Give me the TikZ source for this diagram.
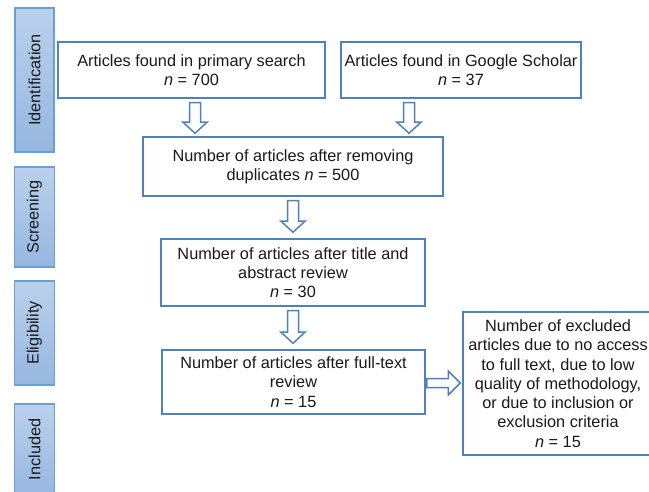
\documentclass[tikz,border=0pt]{standalone}
\usepackage{fontspec}
\setmainfont{Liberation Sans}
\usetikzlibrary{calc}
\definecolor{boxblue}{HTML}{4F81BD}
\definecolor{barline}{HTML}{6A9ED6}
\definecolor{bartop}{HTML}{BAD1EC}
\definecolor{barbot}{HTML}{96B7E0}
\definecolor{txt}{HTML}{1A1A1A}
\newcommand\vblock[2]{\draw[blockarrow] let \p1=(#1), \p2=(#2) in
  (\x1-5.5pt,\y1) -- (\x1+5.5pt,\y1) -- (\x1+5.5pt,\y2+11pt) -- (\x1+12pt,\y2+11pt)
  -- (\x1,\y2) -- (\x1-12pt,\y2+11pt) -- (\x1-5.5pt,\y2+11pt) -- cycle;}
\newcommand\hblock[2]{\draw[blockarrow] let \p1=(#1), \p2=(#2) in
  (\x1,\y1+4.5pt) -- (\x2-12pt,\y1+4.5pt) -- (\x2-12pt,\y1+12pt) -- (\x2,\y1)
  -- (\x2-12pt,\y1-12pt) -- (\x2-12pt,\y1-4.5pt) -- (\x1,\y1-4.5pt) -- cycle;}
\begin{document}
\begin{tikzpicture}[x=1pt,y=-1pt,
  box/.style={draw=boxblue, line width=1.5pt, fill=white, align=center, inner sep=0pt,
    font=\fontsize{16.3}{19.3}\selectfont, text=txt},
  bar/.style={draw=barline, line width=1.5pt, top color=bartop, bottom color=barbot, inner sep=0pt},
  barlabel/.style={rotate=90, font=\fontsize{16.3}{19.3}\selectfont, text=txt},
  blockarrow/.style={draw=boxblue, line width=1.5pt, fill=white, line join=miter}]
\useasboundingbox (0,0) rectangle (649,492);
\clip (0,0) rectangle (649,492);
\fill[white] (0,0) rectangle (649,492);

% side bars
\node[bar, minimum width=39, minimum height=144] (idb) at (34.5,80) {};
\node[barlabel] at (idb) {Identification};
\node[bar, minimum width=40, minimum height=100] (scb) at (34.5,217) {};
\node[barlabel] at (scb) {Screening};
\node[bar, minimum width=40, minimum height=104] (elb) at (34.5,333) {};
\node[barlabel] at (elb) {Eligibility};
\node[bar, minimum width=40, minimum height=91] (inb) at (34.5,449.5) {};
\node[barlabel] at (inb) {Included};

% boxes
\node[box, minimum width=267, minimum height=56] (b1) at (191.5,70)
  {Articles found in primary search\\\textit{n} = 700};
\node[box, minimum width=240, minimum height=56] (b2) at (461,70)
  {Articles found in Google Scholar\\\textit{n} = 37};
\node[box, minimum width=300, minimum height=59] (b3) at (293,166.5)
  {Number of articles after removing\\duplicates \textit{n} = 500};
\node[box, minimum width=264, minimum height=67] (b4) at (293,272.5)
  {Number of articles after title and\\abstract review\\\textit{n} = 30};
\node[box, minimum width=263, minimum height=64] (b5) at (293.5,382)
  {Number of articles after full-text\\review\\\textit{n} = 15};
\node[box, minimum width=190, minimum height=143] (b6) at (558,383.5)
  {Number of excluded\\articles due to no access\\to full text, due to low\\quality of methodology,\\or due to inclusion or\\exclusion criteria\\\textit{n} = 15};

% arrows
\coordinate (a1s) at ($(b1.south)+(3.5,4)$);
\coordinate (a1e) at ($(a1s |- b3.north)+(0,-3)$);
\vblock{a1s}{a1e}
\coordinate (a2s) at ($(b2.south)+(-52,4)$);
\coordinate (a2e) at ($(a2s |- b3.north)+(0,-3)$);
\vblock{a2s}{a2e}
\coordinate (a3s) at ($(b3.south)+(0,4)$);
\coordinate (a3e) at ($(b4.north)+(0,-6)$);
\vblock{a3s}{a3e}
\coordinate (a4s) at ($(b4.south)+(0,4)$);
\coordinate (a4e) at ($(b5.north)+(0,-6)$);
\vblock{a4s}{a4e}
\coordinate (a5s) at ($(b5.east)+(1,1)$);
\coordinate (a5e) at ($(a5s -| b6.west)+(-2,0)$);
\hblock{a5s}{a5e}
\end{tikzpicture}
\end{document}
